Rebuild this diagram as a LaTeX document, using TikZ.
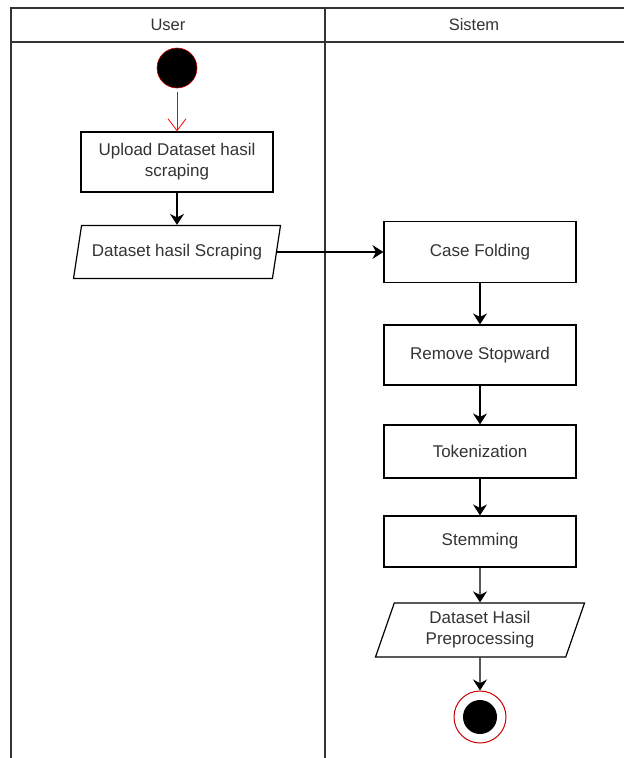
\documentclass[tikz,border=0pt]{standalone}
\usepackage{fontspec}
\setmainfont{Liberation Sans}
\usetikzlibrary{arrows.meta, shapes.geometric}

\begin{document}
\begin{tikzpicture}[
    x=1pt, y=-1pt,
    font=\fontsize{17}{21}\selectfont,
    act/.style={draw=black, line width=1.2pt, minimum width=192pt, align=center, text=black!80},
    io/.style={trapezium, trapezium left angle=63, trapezium right angle=117,
        trapezium stretches body, draw=black, line width=1.2pt, inner sep=0pt,
        align=center, text=black!80},
    arr/.style={-{Stealth[length=11pt, width=14pt]}, line width=1.3pt},
    lane/.style={line width=1.5pt, draw=black!80}
]
\useasboundingbox (0,0) rectangle (624,758);
% Swimlanes: User | Sistem
\draw[lane] (11,758) -- (11,8) -- (624,8);
\draw[lane] (11,42) -- (624,42);
\draw[lane] (325,8) -- (325,758);
\node[font=\fontsize{16.5}{20}\selectfont, text=black!80] (lblUser)   at (168,25) {User};
\node[font=\fontsize{16.5}{20}\selectfont, text=black!80] (lblSistem) at (474,25) {Sistem};
% User lane
\node[circle, fill=black, draw=red!80!black, line width=0.6pt, minimum size=40pt, inner sep=0pt] (start) at (177,68) {};
\node[act, minimum height=60pt] (upload) at (177,162) {Upload Dataset hasil\\scraping};
\node[io, minimum width=207pt, minimum height=53pt] (dsScrap) at (177,252) {Dataset hasil Scraping};
% Sistem lane
\node[act, minimum height=61pt] (caseF) at (480,252) {Case Folding};
\node[act, minimum height=60pt] (stopW) at (480,355) {Remove Stopward};
\node[act, minimum height=53pt] (token) at (480,451.5) {Tokenization};
\node[act, minimum height=51pt] (stem)  at (480,541.5) {Stemming};
\node[io, minimum width=209pt, minimum height=54pt] (dsPre) at (480,630) {Dataset Hasil\\Preprocessing};
\node[circle, draw=red!80!black, line width=1pt, fill=white, minimum size=52pt, inner sep=0pt,
    path picture={\fill[black] (path picture bounding box.center) circle (17pt);}] (stop) at (480,717) {};
% Flow
\draw[red, line width=0.8pt, shorten <=4pt, -{Straight Barb[length=12pt, width=18pt]}] (start) -- (upload);
\draw[arr] (upload) -- (dsScrap);
\draw[arr] (dsScrap.east) -- (caseF.west);
\draw[arr] (caseF) -- (stopW);
\draw[arr] (stopW) -- (token);
\draw[arr] (token) -- (stem);
\draw[arr] (stem) -- (dsPre);
\draw[arr] (dsPre) -- (stop);
\end{tikzpicture}
\end{document}
